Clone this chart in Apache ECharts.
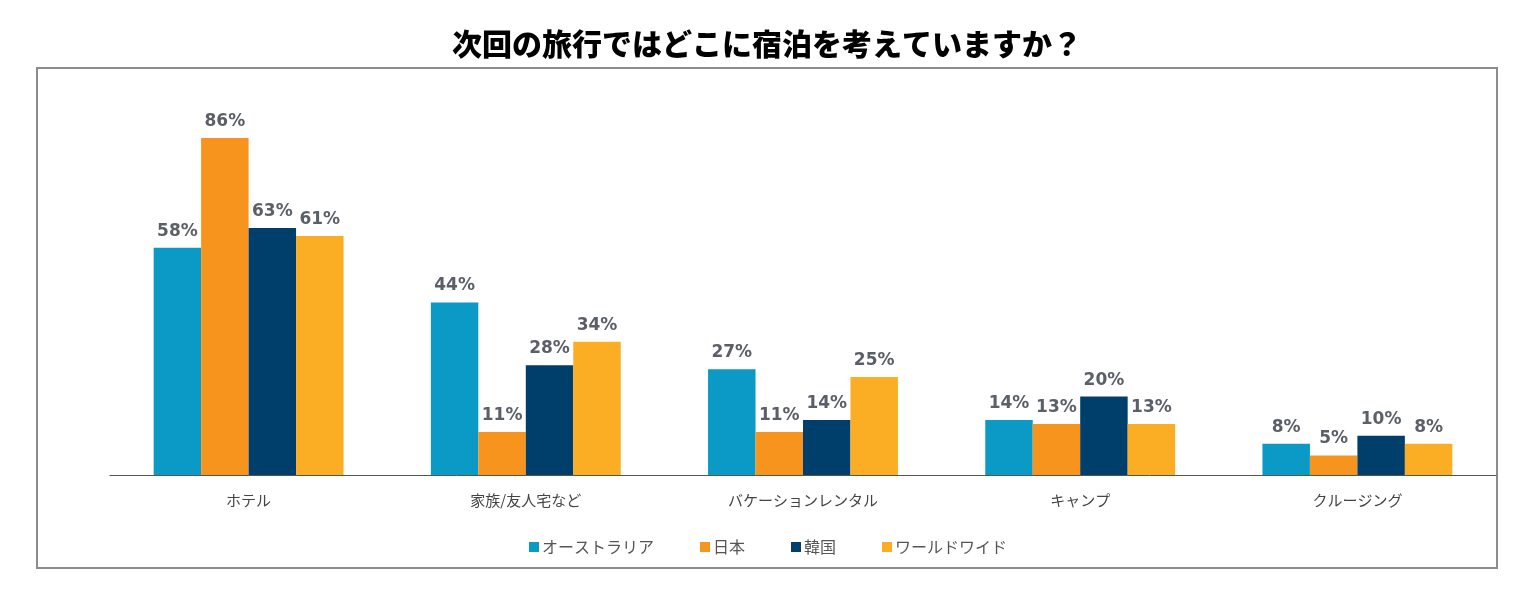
<!DOCTYPE html>
<html><head><meta charset="utf-8">
<script src="https://cdn.jsdelivr.net/npm/echarts@6/dist/echarts.min.js"></script>
<style>html,body{margin:0;padding:0;background:#fff}#c{width:1536px;height:597px}</style>
</head><body><div id="c"></div>
<script>
const categories = ['ホテル', '家族/友人宅など', 'バケーションレンタル', 'キャンプ', 'クルージング'];
const seriesNames = ['オーストラリア', '日本', '韓国', 'ワールドワイド'];
const australia = [58, 44, 27, 14, 8];
const japan = [86, 11, 11, 13, 5];
const korea = [63, 28, 14, 20, 10];
const worldwide = [61, 34, 25, 13, 8];
const values = [australia, japan, korea, worldwide];
const colors = ['#0a9ac5', '#f7941d', '#003f6b', '#fbae24'];

const chart = echarts.init(document.getElementById('c'));
chart.setOption({
  animation: false,
  title: {
    text: '次回の旅行ではどこに宿泊を考えていますか？',
    left: 762, top: 24, textAlign: 'center',
    textStyle: {fontFamily: '"Noto Sans CJK JP"', fontWeight: 900, fontSize: 30, color: '#000'}
  },
  graphic: [{
    type: 'rect', shape: {x: 37, y: 68, width: 1460, height: 500},
    style: {fill: 'none', stroke: '#8c8c8c', lineWidth: 2}, z: -1
  }],
  legend: {
    bottom: 37, left: 772, itemWidth: 10, itemHeight: 10, itemGap: 46,
    icon: 'rect',
    textStyle: {fontFamily: '"Noto Sans CJK JP"', fontSize: 16, color: '#555', padding: [0, 0, 0, -2]},
    data: seriesNames
  },
  grid: {left: 110, right: 40, top: 83, bottom: 122},
  xAxis: {
    type: 'category', data: categories,
    axisLine: {lineStyle: {color: '#555', width: 1}},
    axisTick: {show: false},
    axisLabel: {fontFamily: '"Noto Sans CJK JP"', fontSize: 15, color: '#444', margin: 18}
  },
  yAxis: {type: 'value', min: 0, max: 100, show: false, splitLine: {show: false}},
  series: seriesNames.map((n, i) => ({
    name: n, type: 'bar', data: values[i], barGap: '0%', barCategoryGap: '31.5%',
    itemStyle: {color: colors[i]},
    label: {show: true, position: 'top', formatter: '{c}%', distance: 8,
      fontFamily: '"DejaVu Sans"', fontWeight: 'bold', fontSize: 17, color: '#5b6068'}
  }))
});
chart.setOption({legend: {left: 'center'}});
</script></body></html>
